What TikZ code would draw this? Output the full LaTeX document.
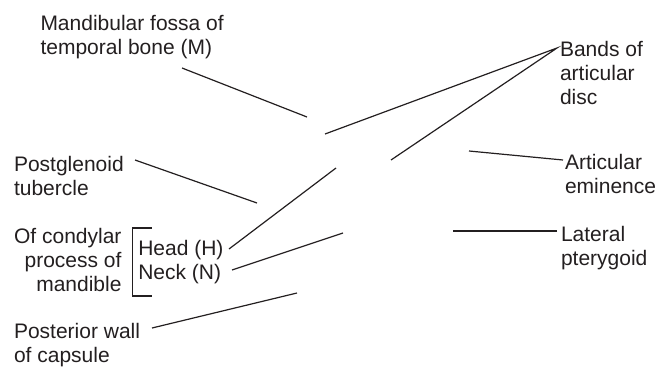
\documentclass[tikz,border=0pt]{standalone}
\usepackage{fontspec}
\setmainfont{Liberation Sans}
\definecolor{ink}{HTML}{231F20}
\begin{document}
\begin{tikzpicture}[x=1pt,y=-1pt,
  lbl/.style={inner sep=0pt, outer sep=0pt, align=left, text=ink, font=\fontsize{21}{24}\selectfont},
  lblr/.style={lbl, align=right},
  lead/.style={draw=ink, line width=1.2pt}]
\useasboundingbox (0,0) rectangle (671,367);
% labels (anchored at the baseline of their last line)
\node[lbl, anchor=base west] (fossa) at (40.5,54) {Mandibular fossa of\\temporal bone (M)};
\node[lbl, anchor=base west] (bands) at (560,104) {Bands of\\articular\\disc};
\node[lbl, anchor=base west] (postg) at (14,195) {Postglenoid\\tubercle};
\node[lbl, anchor=base west] (emin) at (565,193) {Articular\\eminence};
\node[lblr, anchor=base east] (cond) at (121.5,291) {Of condylar\\process of\\mandible};
\node[lbl, anchor=base west] (head) at (138.3,255) {Head (H)};
\node[lbl, anchor=base west] (neck) at (138.3,279) {Neck (N)};
\node[lbl, anchor=base west] (latp) at (561,265) {Lateral\\pterygoid};
\node[lbl, anchor=base west] (post) at (14,362) {Posterior wall\\of capsule};
% bracket
\coordinate (bt) at (151.7,228);
\coordinate (bb) at (151.7,296);
\draw[lead] (bt) -| (132.7,296) -- (bb);
% leader coordinates
\coordinate (fossaA) at (182,68);   \coordinate (fossaB) at (307,117);
\coordinate (postgA) at (135,160);  \coordinate (postgB) at (257,203);
\coordinate (headA) at (229,249);   \coordinate (headB) at (336,168);
\coordinate (neckA) at (232,270);   \coordinate (neckB) at (343,233);
\coordinate (postA) at (152,328);   \coordinate (postB) at (297,293);
\coordinate (bandsA) at (557,48);   \coordinate (bandsB) at (325,134);
\coordinate (bandsC) at (391,160);
\coordinate (eminA) at (563,160);   \coordinate (eminB) at (469,151);
\coordinate (latpA) at (557,231);   \coordinate (latpB) at (453,231);
% leaders
\draw[lead] (fossaA) -- (fossaB);
\draw[lead] (postgA) -- (postgB);
\draw[lead] (headA) -- (headB);
\draw[lead] (neckA) -- (neckB);
\draw[lead] (postA) -- (postB);
\draw[lead] (bandsB) -- (bandsA) -- (bandsC);
\draw[lead] (eminA) -- (eminB);
\draw[lead] (latpA) -- (latpB);
\end{tikzpicture}
\end{document}
